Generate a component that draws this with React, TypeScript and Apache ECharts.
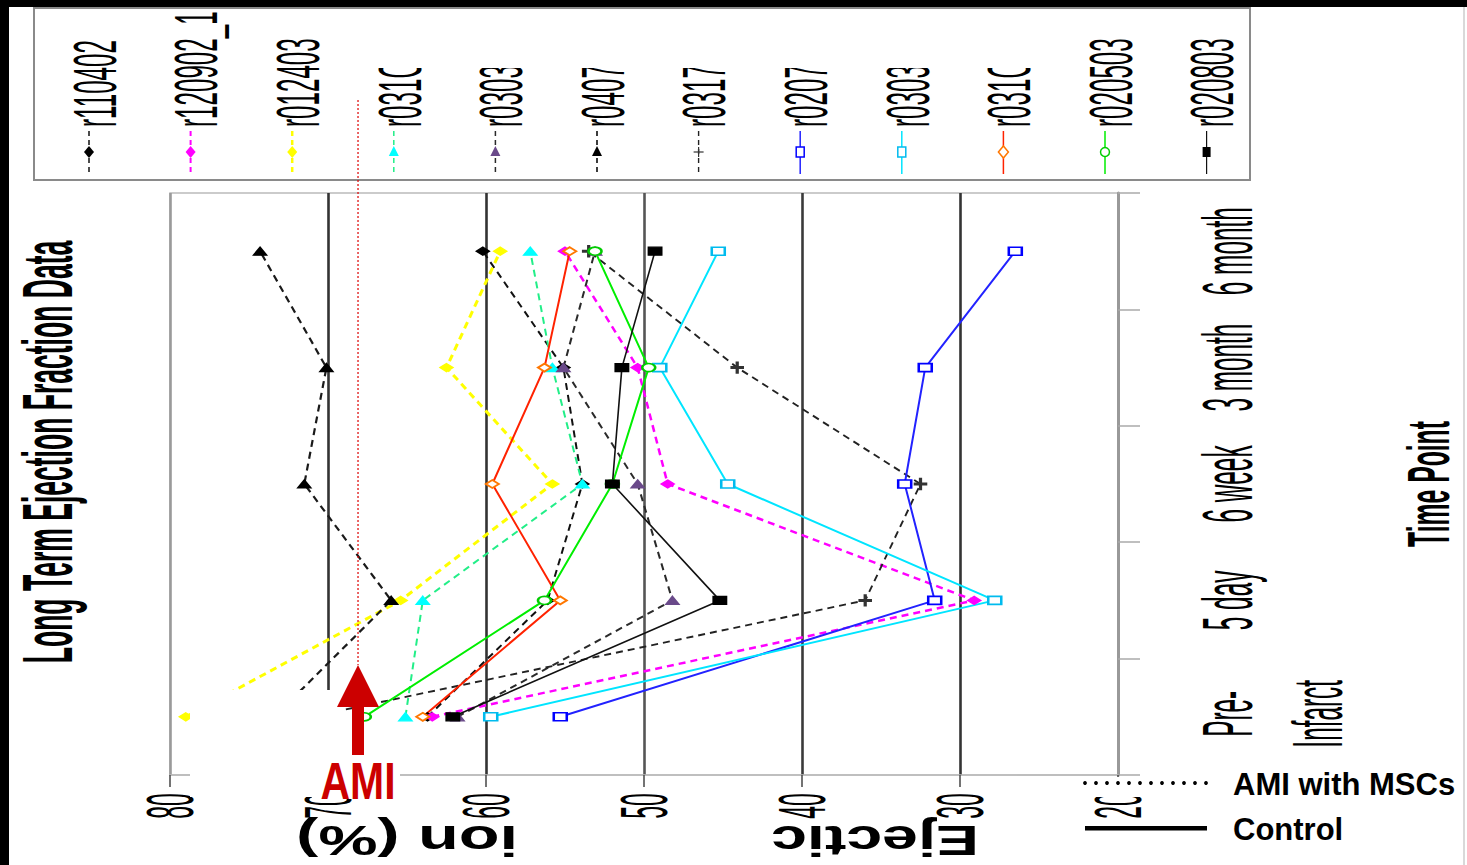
import React, { useEffect, useRef } from 'react';
import * as echarts from 'echarts';

// ---------- data ----------
const timePoints = ['Pre-Infarct', '5 day', '6 week', '3 month', '6 month'];
const efTicks = [80, 70, 60, 50, 40, 30, 20];
const seriesNames = ['r110402', 'r120902_1', 'r012403', 'r031C', 'r0303', 'r0407', 'r0317', 'r0207', 'r0303', 'r031C', 'r020503', 'r020803'];

// Ejection fraction (%) per animal, in order Pre-Infarct, 5 day, 6 week, 3 month, 6 month
const efR110402 = [63.7, 56.1, 53.9, 55.1, 60.2];
const efR120902 = [63.4, 29.1, 48.5, 50.4, 55.0];
const efR012403 = [79.0, 65.4, 55.8, 62.5, 59.1];
const efR031Ca = [65.1, 64.0, 53.9, 55.8, 57.2];
const efR0303a = [61.8, 48.2, 50.4, 55.1, 53.1];
const efR0407 = [73.4, 66.0, 71.5, 70.1, 74.3];
const efR0317 = [71.1, 36.0, 32.5, 44.1, 53.5];
const efR0207 = [55.3, 31.6, 33.5, 32.2, 26.5];
const efR0303b = [59.7, 27.8, 44.7, 49.0, 45.3];
const efR031Cb = [64.0, 55.3, 59.6, 56.3, 54.7];
const efR020503 = [67.7, 56.3, 52.0, 49.7, 53.1];
const efR020803 = [62.1, 45.2, 52.0, 51.4, 49.3];

const seriesValues = [efR110402, efR120902, efR012403, efR031Ca, efR0303a, efR0407, efR0317, efR0207, efR0303b, efR031Cb, efR020503, efR020803];

// AMI annotation position on the EF axis
const amiEF = 68.1;

// ---------- styles ----------
type Sty = { line: string; marker: string; dashed: boolean; width: number; symbol: string };
const seriesStyles: Sty[] = [
  { line: '#111111', marker: '#000000', dashed: true, width: 2, symbol: 'diamond' },
  { line: '#ff00ff', marker: '#ff00ff', dashed: true, width: 2.5, symbol: 'diamond' },
  { line: '#ffff00', marker: '#ffff00', dashed: true, width: 3, symbol: 'diamond' },
  { line: '#22ee88', marker: '#00ffff', dashed: true, width: 2, symbol: 'triangle' },
  { line: '#2a2a2a', marker: '#6a4a8a', dashed: true, width: 2, symbol: 'triangle' },
  { line: '#1a1a1a', marker: '#000000', dashed: true, width: 2.2, symbol: 'triangle' },
  { line: '#222222', marker: '#333333', dashed: true, width: 1.9, symbol: 'cross' },
  { line: '#2222ff', marker: '#0000ff', dashed: false, width: 2, symbol: 'emptyRect' },
  { line: '#00e5ff', marker: '#00bbee', dashed: false, width: 2, symbol: 'emptyRect' },
  { line: '#ff2200', marker: '#ff7700', dashed: false, width: 2, symbol: 'emptyDiamond' },
  { line: '#00ee00', marker: '#00cc00', dashed: false, width: 2, symbol: 'emptyCircle' },
  { line: '#111111', marker: '#000000', dashed: false, width: 1.6, symbol: 'rect' },
];

const CROSS = 'path://M0,4.3L10,4.3L10,5.7L0,5.7ZM4.3,0L5.7,0L5.7,10L4.3,10Z';
const FONT = '"Liberation Sans", Arial, sans-serif';

function fitScale(text: string, size: number, weight: string, target: number) {
  const ctx = document.createElement('canvas').getContext('2d');
  if (!ctx) return 1;
  ctx.font = `${weight} ${size}px "Liberation Sans"`;
  const w = ctx.measureText(text).width;
  return w > 0 ? target / w : 1;
}

function txt(text: string, x: number, y: number, size: number, scale: number, weight: string, align: string,
  rotation = Math.PI / 2, fill = '#000', lineHeight?: number, z = 40) {
  return {
    type: 'text', x, y, rotation, scaleX: scale, scaleY: 1, z, silent: true,
    style: {
      text, fill, fontSize: size, fontFamily: FONT, fontWeight: weight,
      align, verticalAlign: 'middle', textAlign: align, textVerticalAlign: 'middle',
      lineHeight,
    },
  };
}

function markerEl(s: Sty, x: number, y: number) {
  const z = 32;
  switch (s.symbol) {
    case 'diamond':
      return { type: 'polygon', z, shape: { points: [[x, y - 6], [x + 5, y], [x, y + 6], [x - 5, y]] }, style: { fill: s.marker } };
    case 'triangle':
      return { type: 'polygon', z, shape: { points: [[x, y - 6], [x + 5, y + 4], [x - 5, y + 4]] }, style: { fill: s.marker } };
    case 'emptyRect':
      return { type: 'rect', z, shape: { x: x - 4, y: y - 5, width: 8, height: 10 }, style: { fill: '#fff', stroke: s.marker, lineWidth: 1.5 } };
    case 'emptyDiamond':
      return { type: 'polygon', z, shape: { points: [[x, y - 6], [x + 5, y], [x, y + 6], [x - 5, y]] }, style: { fill: '#fff', stroke: s.marker, lineWidth: 1.5 } };
    case 'emptyCircle':
      return { type: 'circle', z, shape: { cx: x, cy: y, r: 4.5 }, style: { fill: '#fff', stroke: s.marker, lineWidth: 1.5 } };
    case 'rect':
      return { type: 'rect', z, shape: { x: x - 4, y: y - 5, width: 8, height: 10 }, style: { fill: s.marker } };
    default:
      return {
        type: 'group', z, children: [
          { type: 'line', z, shape: { x1: x - 5, y1: y, x2: x + 5, y2: y }, style: { stroke: s.marker, lineWidth: 1.2 } },
          { type: 'line', z, shape: { x1: x, y1: y - 5, x2: x, y2: y + 5 }, style: { stroke: s.marker, lineWidth: 1.2 } },
        ],
      };
  }
}

function buildOption(): any {
  return {
    animation: false,
    backgroundColor: '#ffffff',
    grid: {
      left: 170, right: 349, top: 193, bottom: 90,
      show: true, borderColor: '#bbbbbb', borderWidth: 1.5,
      containLabel: false, outerBoundsMode: 'none',
    },
    xAxis: {
      type: 'value', min: 20, max: 80, interval: 10, inverse: true, position: 'bottom',
      axisLine: { show: true, onZero: false, lineStyle: { color: '#bbbbbb', width: 1.5 } },
      axisTick: { show: true, length: 12, lineStyle: { color: '#444', width: 1.5 } },
      axisLabel: { show: false },
      splitLine: {
        show: true, showMinLine: true, showMaxLine: true,
        lineStyle: { color: ['#9a9a9a', '#333', '#3a3a3a', '#555', '#333', '#333', '#9a9a9a'], width: 2.6 },
      },
    },
    yAxis: {
      type: 'category', data: timePoints, position: 'right', boundaryGap: true,
      axisLine: { show: true, onZero: false, lineStyle: { color: '#999999', width: 3 } },
      axisTick: { show: true, length: 22, lineStyle: { color: '#aaaaaa', width: 1.5 } },
      axisLabel: { show: false },
      splitLine: { show: false },
    },
    series: seriesValues.map((vals, i) => {
      const s = seriesStyles[i];
      return {
        type: 'line', name: seriesNames[i],
        data: vals.map((v, k) => [v, timePoints[k]]),
        symbol: s.symbol === 'cross' ? CROSS : s.symbol,
        symbolSize: s.symbol === 'cross' ? [12, 11] : [13, 8],
        showSymbol: true, showAllSymbol: true,
        lineStyle: { color: s.line, width: s.width, type: s.dashed ? [7, 5] : 'solid' },
        itemStyle: { color: s.marker, borderColor: s.marker, borderWidth: 1.5 },
        emphasis: { disabled: true },
        silent: true,
        z: 2,
      };
    }),
  };
}

function buildGraphic(chart: any) {
  const px = (v: number) => chart.convertToPixel({ xAxisIndex: 0 }, v) as number;
  const py = (c: string) => chart.convertToPixel({ yAxisIndex: 0 }, c) as number;
  const xRight = px(20);
  const els: any[] = [];

  // outer frame strips
  els.push({ type: 'rect', z: 10, shape: { x: 0, y: 0, width: 1467, height: 7 }, style: { fill: '#000' } });
  els.push({ type: 'rect', z: 10, shape: { x: 0, y: 0, width: 9, height: 865 }, style: { fill: '#000' } });
  els.push({ type: 'line', z: 10, shape: { x1: 1464, y1: 7, x2: 1464, y2: 865 }, style: { stroke: '#cccccc', lineWidth: 1.5 } });

  // title
  const tScale = fitScale('Long Term Ejection Fraction Data', 70, 'bold', 423);
  els.push(txt('Long Term Ejection Fraction Data', 48, 452, 70, tScale, 'bold', 'center'));

  // category (time point) labels
  const cScale = fitScale('6 month', 70, 'normal', 88);
  timePoints.forEach((tp) => {
    if (tp === 'Pre-Infarct') {
      els.push(txt('Pre-\nInfarct', xRight + 155, py(tp) - 3, 70, cScale, 'normal', 'center', Math.PI / 2, '#000', 90));
    } else {
      els.push(txt(tp, xRight + 110, py(tp), 70, cScale, 'normal', 'center'));
    }
  });
  const tpScale = fitScale('Time Point', 60, 'bold', 126);
  els.push(txt('Time Point', 1428, 484, 60, tpScale, 'bold', 'center'));

  // value tick labels
  efTicks.forEach((v) => {
    els.push(txt(String(v), px(v), 806, 66, cScale, 'normal', 'center'));
  });

  // value axis title (upside down, partly hidden)
  const eScale = fitScale('Ejectic', 42, 'bold', 208);
  els.push(txt('Ejectic', 875, 840, 42, eScale, 'bold', 'center', Math.PI));
  const iScale = fitScale('ion (%)', 42, 'bold', 222);
  els.push(txt('ion (%)', 407, 840, 42, iScale, 'bold', 'center', Math.PI));

  // legend box
  els.push({ type: 'rect', z: 20, shape: { x: 34, y: 8, width: 1216, height: 172 }, style: { fill: '#fff', stroke: '#8a8a8a', lineWidth: 2 } });
  const lScale = fitScale('r110402', 62, 'normal', 87);
  const legendX0 = 89;
  const legendStep = 101.6;
  seriesNames.forEach((name, i) => {
    const x = legendX0 + i * legendStep;
    const s = seriesStyles[i];
    els.push({
      type: 'line', z: 31, shape: { x1: x, y1: 131, x2: x, y2: 174 },
      style: { stroke: s.line, lineWidth: Math.max(1.2, s.width - 0.5), lineDash: s.dashed ? [5, 4] : null },
    });
    els.push(markerEl(s, x, 152));
    els.push(txt(name, x + 5, 127, 62, lScale, 'normal', 'left', Math.PI / 2, '#000', undefined, 31));
  });
  // truncated legend labels
  els.push({ type: 'rect', z: 33, shape: { x: legendX0 + 3 * legendStep - 32, y: 12, width: 6 * legendStep + 64, height: 56 }, style: { fill: '#fff' } });

  // AMI annotation
  const ax = px(amiEF);
  els.push({ type: 'rect', z: 60, shape: { x: 190, y: 690, width: 155, height: 107 }, style: { fill: '#fff' } });
  els.push({ type: 'rect', z: 60, shape: { x: 312, y: 757, width: 88, height: 42 }, style: { fill: '#fff' } });
  els.push({ type: 'line', z: 61, shape: { x1: ax, y1: 100, x2: ax, y2: 665 }, style: { stroke: '#dd0000', lineWidth: 1.2, lineDash: [2, 2] } });
  els.push({ type: 'polygon', z: 62, shape: { points: [[ax - 21, 707], [ax + 21, 707], [ax, 665]] }, style: { fill: '#cc0000' } });
  els.push({ type: 'rect', z: 62, shape: { x: ax - 6, y: 705, width: 12, height: 50 }, style: { fill: '#cc0000' } });
  const aScale = fitScale('AMI', 52, 'bold', 75);
  els.push(txt('AMI', ax, 781, 52, aScale, 'bold', 'center', 0, '#cc0000', undefined, 63));

  // group legend (bottom right)
  els.push({ type: 'rect', z: 60, shape: { x: 1072, y: 777, width: 388, height: 20 }, style: { fill: '#fff' } });
  for (let k = 0; k < 12; k++) {
    els.push({ type: 'circle', z: 62, shape: { cx: 1085 + k * 11, cy: 783, r: 1.9 }, style: { fill: '#000' } });
  }
  els.push({ type: 'rect', z: 62, shape: { x: 1085, y: 826, width: 122, height: 4.5 }, style: { fill: '#000' } });
  els.push({ type: 'text', z: 62, x: 1233, y: 784, style: { text: 'AMI with MSCs', fill: '#000', fontSize: 31, fontWeight: 'bold', fontFamily: FONT, align: 'left', verticalAlign: 'middle', textAlign: 'left', textVerticalAlign: 'middle' } });
  els.push({ type: 'text', z: 62, x: 1233, y: 829, style: { text: 'Control', fill: '#000', fontSize: 31, fontWeight: 'bold', fontFamily: FONT, align: 'left', verticalAlign: 'middle', textAlign: 'left', textVerticalAlign: 'middle' } });

  return els;
}

export default function App() {
  const ref = useRef<HTMLDivElement>(null);
  useEffect(() => {
    const el = ref.current;
    if (!el) return;
    const chart = echarts.init(el, null, { renderer: 'svg' });
    chart.setOption(buildOption());
    chart.setOption({ graphic: { elements: buildGraphic(chart) } });
    return () => chart.dispose();
  }, []);
  return <div ref={ref} style={{ position: 'absolute', left: 0, top: 0, width: 1467, height: 865 }} />;
}
